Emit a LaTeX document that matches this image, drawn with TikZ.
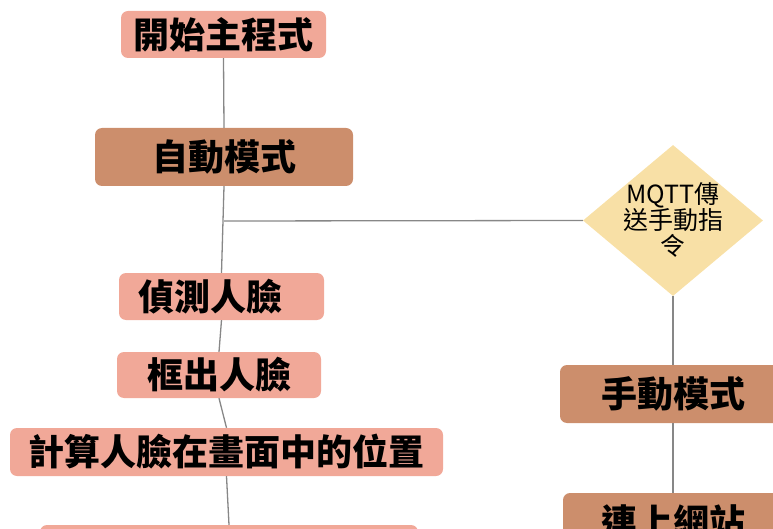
\documentclass[tikz,border=0pt]{standalone}
\usepackage{fontspec}
\usetikzlibrary{shapes.geometric}
\newfontfamily\cjk{Noto Sans CJK TC}
\definecolor{salmon}{RGB}{241,168,152}
\definecolor{brownbox}{RGB}{204,142,108}
\definecolor{diayellow}{RGB}{248,224,166}
\definecolor{linegray}{RGB}{135,135,135}
\tikzset{
  box/.style={rectangle, rounded corners=7pt, inner sep=0pt, font=\cjk\bfseries\fontsize{36}{39}\selectfont, text=black},
  lightbox/.style={box, fill=salmon},
  darkbox/.style={box, fill=brownbox},
  decision/.style={diamond, fill=diayellow, inner sep=0pt},
  dtext/.style={align=center, font=\cjk\fontsize{25}{26}\selectfont, text=black},
  conn/.style={draw=linegray, line width=1.3pt}
}
\begin{document}
\begin{tikzpicture}[x=1pt,y=1pt]
\useasboundingbox (0,0) rectangle (773,-529);
\clip (0,0) rectangle (773,-529);
\node[lightbox, minimum width=205, minimum height=47] (start) at (223.5,-34.5) {開始主程式};
\node[darkbox, minimum width=258, minimum height=58] (auto) at (224,-157) {自動模式};
\node[lightbox, minimum width=205, minimum height=47] (detect) at (221.5,-296.5) {偵測人臉\hspace*{22pt}};
\node[lightbox, minimum width=204, minimum height=46] (frame) at (219,-375) {框出人臉};
\node[lightbox, minimum width=433, minimum height=48] (calc) at (226.5,-452) {計算人臉在畫面中的位置};
\node[lightbox, minimum width=378, minimum height=48] (next) at (229,-549) {};
\node[decision, minimum width=180, minimum height=151] (mqtt) at (673,-220.5) {};
\node[dtext] (mqtttext) at (mqtt.center) {MQTT傳\\送手動指\\令};
\node[darkbox, minimum width=226, minimum height=58] (manual) at (673,-394) {手動模式};
\node[darkbox, minimum width=220, minimum height=58] (web) at (673,-522) {連上網站};
\coordinate (j) at (224,-221);
\draw[conn] (start.south) -- (auto.north);
\draw[conn] (auto.south) -- (detect.north);
\draw[conn] (j) -- (mqtt.west);
\draw[conn] (detect.south) -- (frame.north);
\draw[conn] (frame.south) -- (calc.north);
\draw[conn] (calc.south) -- (next.north);
\draw[conn] (mqtt.south) -- (manual.north);
\draw[conn] (manual.south) -- (web.north);
\end{tikzpicture}
\end{document}
